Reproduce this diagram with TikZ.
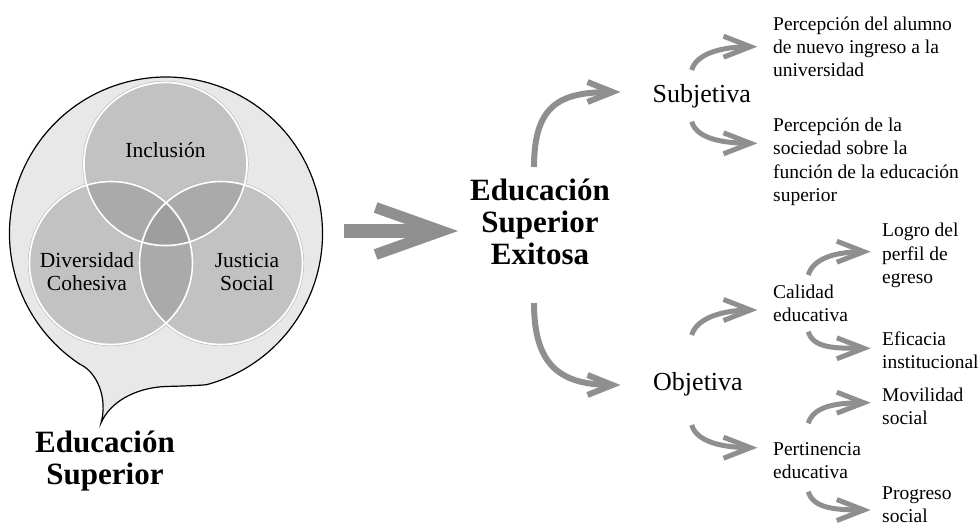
\documentclass[tikz,border=0pt]{standalone}
\usepackage{fontspec}
\setmainfont{Liberation Serif}
\usetikzlibrary{arrows.meta}
\definecolor{agray}{HTML}{8F8F8F}
\definecolor{bubblefill}{HTML}{E8E8E8}
\definecolor{vone}{HTML}{C2C2C2}
\definecolor{vtwo}{HTML}{AAAAAA}
\definecolor{vthree}{HTML}{9E9E9E}
\newcommand\headS[1]{\draw[draw=agray, line width=5pt, line join=miter]
  ([shift={(-27,-10.5)}]#1) -- (#1) -- ([shift={(-27,10.5)}]#1);}
\newcommand\headB[1]{\draw[draw=agray, line width=6pt, line join=miter]
  ([shift={(-25,-10)}]#1) -- (#1) -- ([shift={(-25,10)}]#1);}
\begin{document}
\begin{tikzpicture}[x=1pt,y=-1pt,
  small/.style={inner sep=0pt, anchor=base west, align=left, font=\fontsize{19.5}{23.3}\selectfont},
  medium/.style={inner sep=0pt, anchor=base west, font=\fontsize{26}{30}\selectfont},
  venn/.style={inner sep=0pt, anchor=base, align=center, font=\fontsize{21.5}{23}\selectfont},
  bigbold/.style={inner sep=0pt, anchor=base, align=center, font=\bfseries\fontsize{31}{32}\selectfont},
  shaftS/.style={draw=agray, line width=5pt},
  shaftB/.style={draw=agray, line width=6pt},
  ringout/.style={draw=gray!55, line width=0.5pt},
  ringin/.style={draw=white, line width=1.6pt}
]
\useasboundingbox (0,0) rectangle (979,525);

% speech bubble
\filldraw[fill=bubblefill, draw=black, line width=1.2pt]
  (206.5,384.7) arc[start angle=75, end angle=-236.6, radius=156.5]
  .. controls (97,372) and (108,398) .. (101,423)
  .. controls (110,402) and (135,388) .. (165,386.5)
  .. controls (185,386) and (198,385.5) .. (206.5,384.7) -- cycle;

% Venn diagram
\def\vA{(165.5,164) circle[radius=81.5]}
\def\vB{(111,263) circle[radius=81.5]}
\def\vC{(221,263) circle[radius=81.5]}
\fill[vone] \vA; \fill[vone] \vB; \fill[vone] \vC;
\begin{scope}\clip \vA; \fill[vtwo] \vB; \fill[vtwo] \vC;\end{scope}
\begin{scope}\clip \vB; \fill[vtwo] \vC;\end{scope}
\begin{scope}\clip \vA; \clip \vB; \fill[vthree] \vC;\end{scope}
\draw[ringout] (165.5,164) circle[radius=82.8];
\draw[ringout] (111,263) circle[radius=82.8];
\draw[ringout] (221,263) circle[radius=82.8];
\draw[ringin] \vA; \draw[ringin] \vB; \draw[ringin] \vC;

\node[venn] (incl) at (165.5,157) {Inclusión};
\node[venn] (div) at (87,290) {Diversidad\\Cohesiva};
\node[venn] (jus) at (247,290) {Justicia\\Social};

\node[bigbold] (es) at (105,484) {Educación\\Superior};

% big arrow
\coordinate (ba1) at (344,231);
\coordinate (ba2) at (458,231);
\draw[agray, line width=14pt, -{Straight Barb[length=66pt, width=47pt, line width=11pt]}] (ba1) -- (ba2);

\node[bigbold] (ese) at (540,264) {Educación\\Superior\\Exitosa};

\node[medium] (subj) at (652.5,102) {Subjetiva};
\node[medium] (obj) at (653,390) {Objetiva};

\node[small] (p1) at (773,76.6) {Percepción del alumno\\de nuevo ingreso a la\\universidad};
\node[small] (p2) at (773,201.4) {Percepción de la\\sociedad sobre la\\función de la educación\\superior};
\node[small] (cal) at (773,321.8) {Calidad\\educativa};
\node[small] (per) at (773,478.3) {Pertinencia\\educativa};
\node[small] (log) at (882,283.3) {Logro del\\perfil de\\egreso};
\node[small] (efi) at (882,368.3) {Eficacia\\institucional};
\node[small] (mov) at (882,424.3) {Movilidad\\social};
\node[small] (pro) at (882,522.5) {Progreso\\social};

% curved arrows from ESE
\coordinate (eu) at (534,167);
\coordinate (su) at (612.5,92);
\coordinate (ed) at (534,303);
\coordinate (od) at (612.5,385);
\draw[shaftB] (eu) .. controls +(0,-65) and +(-50,0) .. (su);
\draw[shaftB] (ed) .. controls +(0,65) and +(-50,0) .. (od);
\headB{su} \headB{od}

% small arrows
\coordinate (s1a) at (691.7,70);    \coordinate (s1b) at (750.5,46.7);
\coordinate (s2a) at (691.7,121.7); \coordinate (s2b) at (750.5,143.3);
\coordinate (o1a) at (691.7,335);   \coordinate (o1b) at (750.5,310);
\coordinate (o2a) at (691.7,425);   \coordinate (o2b) at (750.5,447.7);
\coordinate (c1a) at (808.3,275);   \coordinate (c1b) at (863.8,251.7);
\coordinate (c2a) at (808.3,331.7); \coordinate (c2b) at (863.8,348.3);
\coordinate (q1a) at (808.3,423.3); \coordinate (q1b) at (863.8,402.7);
\coordinate (q2a) at (808.3,491.7); \coordinate (q2b) at (863.8,510);
\draw[shaftS] (s1a) .. controls +(5,-17) and +(-28,0) .. (s1b);
\draw[shaftS] (s2a) .. controls +(5,17) and +(-28,0) .. (s2b);
\draw[shaftS] (o1a) .. controls +(5,-17) and +(-28,0) .. (o1b);
\draw[shaftS] (o2a) .. controls +(5,17) and +(-28,0) .. (o2b);
\draw[shaftS] (c1a) .. controls +(5,-17) and +(-28,0) .. (c1b);
\draw[shaftS] (c2a) .. controls +(5,17) and +(-28,0) .. (c2b);
\draw[shaftS] (q1a) .. controls +(5,-17) and +(-28,0) .. (q1b);
\draw[shaftS] (q2a) .. controls +(5,17) and +(-28,0) .. (q2b);
\headS{s1b} \headS{s2b} \headS{o1b} \headS{o2b}
\headS{c1b} \headS{c2b} \headS{q1b} \headS{q2b}
\end{tikzpicture}
\end{document}
